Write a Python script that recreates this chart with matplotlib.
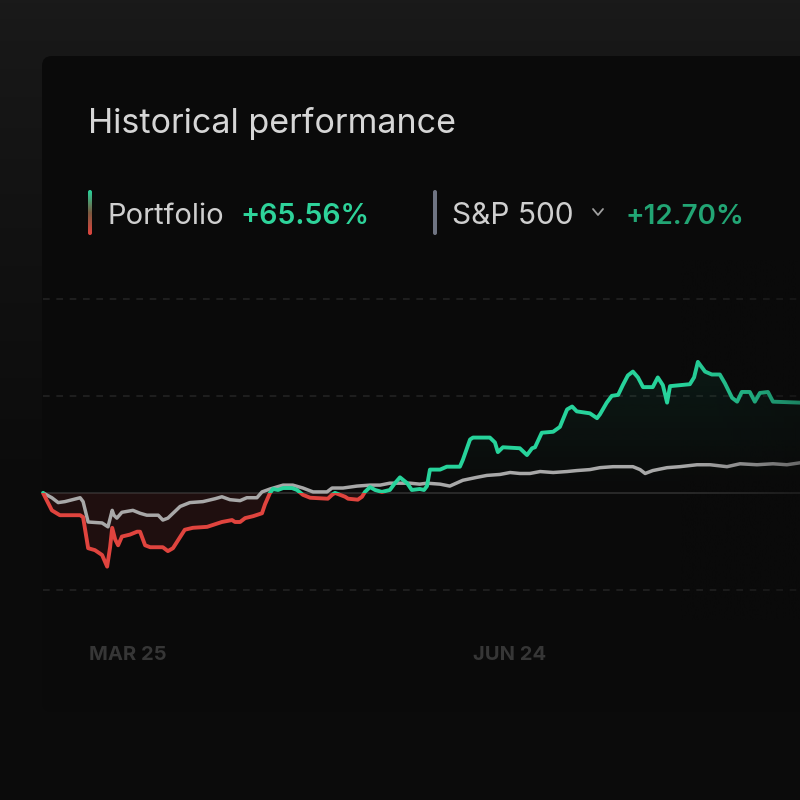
import numpy as np
import matplotlib
matplotlib.use("Agg")
import matplotlib.pyplot as plt
from matplotlib import transforms
from matplotlib.patches import FancyBboxPatch, Polygon, Rectangle

plt.rcParams['font.family'] = ['Inter', 'DejaVu Sans']

# data: days since START, values in %
START = np.datetime64("2024-03-14")
TICK_DATES = ["2024-03-25", "2024-06-24"]
TICK_LABELS = ["MAR 25", "JUN 24"]

port_days = [0, 2.1, 4.0, 8.8, 9.5, 10.7, 12.3, 14.0, 15.2, 15.9, 16.4, 17.1, 17.8, 18.7,
             20.6, 22.3, 23.0, 24.2, 25.4, 28.4, 29.6, 30.8, 33.6, 35.5, 38.9, 40.3, 42.4,
             44.8, 45.5, 46.7, 47.9, 49.8, 51.9, 52.6, 53.8, 54.5, 55.7, 56.9, 59.0, 60.2,
             61.6, 63.3, 67.5, 68.5, 69.2, 70.4, 71.6, 72.3, 74.6, 75.6, 76.3, 77.5, 78.7,
             80.3, 82.2, 83.4, 84.6, 86.3, 87.4, 89.3, 90.3, 91.0, 91.7, 94.1, 95.7, 98.8,
             99.5, 101.2, 101.9, 105.9, 107.1, 107.8, 109.0, 113.0, 114.7, 115.9, 116.6,
             118.2, 120.9, 122.5, 124.2, 125.4, 126.5, 129.6, 131.3, 132.0, 133.6, 134.8,
             136.3, 137.4, 138.6, 139.8, 141.0, 142.2, 144.5, 145.7, 146.9, 147.9, 148.6,
             153.3, 154.3, 155.2, 156.9, 158.5, 160.4, 161.6, 163.3, 164.5, 165.6, 167.5,
             168.7, 169.9, 171.8, 173.0, 179.4]
port_vals = [0.0, -1.8, -2.3, -2.3, -2.5, -5.7, -5.9, -6.4, -7.6, -5.6, -3.6, -4.8, -5.4, -4.5,
             -4.3, -4.0, -4.0, -5.4, -5.6, -5.6, -6.0, -5.7, -3.8, -3.6, -3.5, -3.3, -3.0,
             -2.8, -3.0, -3.0, -2.6, -2.4, -2.1, -1.2, 0.0, 0.4, 0.3, 0.5, 0.5, 0.3,
             -0.2, -0.5, -0.6, -0.2, 0.0, -0.2, -0.4, -0.6, -0.7, -0.4, 0.1, 0.6, 0.3,
             0.1, 0.3, 1.0, 1.6, 1.0, 0.3, 0.4, 0.3, 0.7, 2.4, 2.4, 2.7, 2.7,
             3.4, 5.5, 5.7, 5.7, 5.2, 4.2, 4.7, 4.6, 3.9, 4.6, 4.7,
             6.2, 6.3, 6.8, 8.6, 8.9, 8.4, 8.2, 7.7, 8.1, 9.3, 10.0,
             10.1, 11.1, 12.1, 12.5, 11.9, 10.9, 10.9, 11.9, 11.1, 9.3, 11.0,
             11.2, 11.9, 13.5, 12.5, 12.2, 12.2, 11.3, 9.8, 9.4, 10.4, 10.4,
             9.4, 10.3, 10.4, 9.4, 9.3]

spx_days = [0, 2.1, 3.6, 5.2, 8.8, 9.5, 10.7, 14.0, 15.4, 16.4, 16.8, 17.5, 18.7, 21.3,
            23.0, 24.6, 27.3, 28.4, 29.6, 32.5, 34.8, 37.9, 40.8, 42.4, 44.3, 46.7, 48.3,
            50.7, 51.9, 53.8, 56.9, 59.2, 61.6, 64.0, 67.3, 68.5, 71.1, 74.4, 77.5, 79.9,
            82.2, 87.0, 89.3, 91.0, 94.1, 96.4, 99.5, 102.8, 105.2, 108.3, 110.7, 113.0,
            115.4, 117.8, 120.9, 124.2, 126.5, 129.6, 132.0, 135.1, 139.8, 141.5, 142.7,
            144.5, 147.9, 150.9, 155.0, 158.1, 162.1, 165.2, 169.2, 173.0, 176.3, 179.4]
spx_vals = [0.0, -0.5, -1.0, -0.9, -0.5, -0.9, -3.0, -3.1, -3.5, -1.8, -2.3, -2.6, -2.0, -1.8,
            -2.1, -2.3, -2.3, -2.8, -2.6, -1.4, -1.0, -0.9, -0.6, -0.4, -0.7, -0.8, -0.5,
            -0.5, 0.1, 0.4, 0.8, 0.8, 0.5, 0.1, 0.1, 0.5, 0.5, 0.7, 0.8, 0.8,
            1.0, 1.0, 0.9, 1.0, 0.9, 0.7, 1.3, 1.6, 1.8, 1.9, 2.1, 2.0,
            2.0, 2.2, 2.1, 2.2, 2.3, 2.4, 2.6, 2.7, 2.7, 2.4, 2.0,
            2.3, 2.6, 2.7, 2.9, 2.9, 2.7, 3.0, 2.9, 3.0, 2.9, 3.1]

grid_levels = [20, 10, -10]
title = "Historical performance"
port_label, port_change = "Portfolio", "+65.56%"
spx_label, spx_change = "S&P 500", "+12.70%"

GREEN = "#27d39b"
RED = "#e0443e"
GRAY = "#a8a8a8"
CARD = "#0a0a0a"

fig = plt.figure(figsize=(8, 8), dpi=100)

# background + card, in pixel coordinates
bg = fig.add_axes([0, 0, 1, 1])
bg.set_xlim(0, 800)
bg.set_ylim(800, 0)
bg.axis("off")
top_c = np.array([0x1a, 0x1a, 0x1a]) / 255
bot_c = np.array([0x0b, 0x0b, 0x0b]) / 255
t = np.clip(np.linspace(0, 1, 256) * 1.6, 0, 1)[:, None, None] ** 0.8
grad = top_c * (1 - t) + bot_c * t
bg.imshow(grad, extent=(0, 800, 800, 0), aspect="auto", zorder=0)
card = FancyBboxPatch((42, 56), 800, 656, boxstyle="round,pad=0,rounding_size=10",
                      fc=CARD, ec="none", zorder=1)
bg.add_patch(card)

bg.text(88, 133, title, color="#d6d6d6", fontsize=24.5, zorder=3)

# legend row
bar = FancyBboxPatch((88, 190), 4, 45, boxstyle="round,pad=0,rounding_size=2",
                     fc="none", ec="none", zorder=3)
bg.add_patch(bar)
bcol = matplotlib.colors.LinearSegmentedColormap.from_list("pr", [GREEN, "#7a5a40", RED])
im = bg.imshow(np.linspace(0, 1, 64)[:, None], cmap=bcol, extent=(88, 92, 235, 190),
               aspect="auto", zorder=3)
im.set_clip_path(bar)
bg.text(108, 224, port_label, color="#cfcfcf", fontsize=21, zorder=3)
bg.text(240, 224, port_change, color="#2ed39a", fontsize=20.5, fontweight="semibold", zorder=3)
bg.add_patch(FancyBboxPatch((433, 190), 4, 45, boxstyle="round,pad=0,rounding_size=2",
                            fc="#6f7482", ec="none", zorder=3))
bg.text(452, 224, spx_label, color="#cfcfcf", fontsize=21.5, zorder=3)
bg.plot([593, 598, 603], [209, 215, 209], color="#a0a0a0", lw=1.3, zorder=3,
        solid_capstyle="round")
bg.text(625, 224, spx_change, color="#22a574", fontsize=20, fontweight="semibold", zorder=3)

# chart
ax = fig.add_axes([43 / 800, 180 / 800, 757 / 800, 360 / 800])
ax.set_facecolor("none")
for s in ax.spines.values():
    s.set_visible(False)
ax.set_xticks([])
ax.set_yticks([])

for g in grid_levels:
    ax.axhline(g, color="#232323", lw=1.2, dashes=(4, 4), zorder=1)
ax.axhline(0, color="#2c2c2c", lw=1.3, zorder=1)

pd_ = np.array(port_days)
pv = np.array(port_vals)
xf = np.linspace(pd_[0], pd_[-1], 3000)
pf = np.interp(xf, pd_, pv)

# fills
ax.fill_between(xf, 0, np.minimum(pf, 0), color=RED, alpha=0.10, lw=0, zorder=2)
poly = Polygon(np.column_stack([np.r_[xf, xf[::-1]], np.r_[np.maximum(pf, 0), np.zeros_like(xf)]]),
               closed=True, fc="none", ec="none", transform=ax.transData)
ax.add_patch(poly)
g_rgba = np.zeros((256, 1, 4))
g_rgba[..., :3] = matplotlib.colors.to_rgb(GREEN)
g_rgba[..., 3] = np.linspace(0.09, 0.0, 256)[:, None]
gim = ax.imshow(g_rgba, extent=(0, pd_[-1], 0, 14), aspect="auto", zorder=2, origin="upper")
gim.set_clip_path(poly)

# lines
kw = dict(solid_joinstyle="round", solid_capstyle="round")
ax.plot(spx_days, spx_vals, color=GRAY, lw=2.5, zorder=3, **kw)
up = ax.plot(port_days, port_vals, color=GREEN, lw=2.8, zorder=4, **kw)[0]
dn = ax.plot(port_days, port_vals, color=RED, lw=2.8, zorder=4, **kw)[0]
up.set_clip_path(Rectangle((-10, 0), 500, 100, transform=ax.transData))
dn.set_clip_path(Rectangle((-10, -100), 500, 100, transform=ax.transData))

# fade toward the right edge
fade = np.zeros((1, 256, 4))
fade[..., :3] = matplotlib.colors.to_rgb(CARD)
fade[..., 3] = np.linspace(0, 0.5, 256) ** 1.3
ax.imshow(fade, extent=(150, pd_[-1], -13.1, 24.0), aspect="auto", zorder=5)
ax.set_xlim(0, port_days[-1])
ax.set_ylim(-13.1, 24.0)

# date labels
blend = transforms.blended_transform_factory(ax.transData, bg.transData)
for d, lab in zip(TICK_DATES, TICK_LABELS):
    xd = (np.datetime64(d) - START).astype(int)
    ax.text(xd, 660, lab, transform=blend, color="#363636", fontsize=14.5,
            fontweight="bold", ha="left", va="baseline", clip_on=False)

fig.savefig("out.png", dpi=100, facecolor=CARD)
